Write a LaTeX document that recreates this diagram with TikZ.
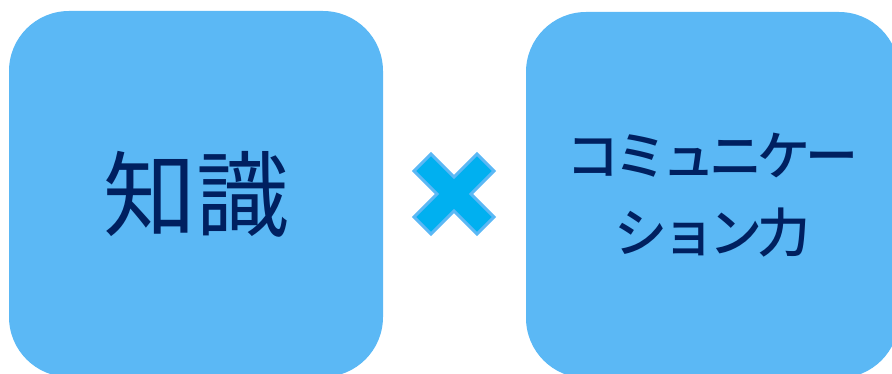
\documentclass[tikz,border=0pt]{standalone}
\usepackage{fontspec}
\newfontfamily\cjk{Noto Sans CJK JP}
\newfontfamily\cjkm[LetterSpace=-10]{Noto Sans CJK JP Medium}
\definecolor{boxblue}{HTML}{5BB8F5}
\definecolor{crossblue}{HTML}{00B0F0}
\definecolor{navy}{HTML}{002060}
\begin{document}
\begin{tikzpicture}[x=1pt,y=-1pt,
  card/.style={fill=boxblue, draw=none, rounded corners=60pt, inner sep=0pt, align=center, text=navy},
  crossmark/.style={fill=crossblue, draw=boxblue, line width=3pt, line join=miter}]
\useasboundingbox (0,0) rectangle (892,374);
\clip (0,0) rectangle (892,374);
\node[card, minimum width=374pt, minimum height=366pt, font=\cjk\fontsize{93pt}{100pt}\selectfont] (know) at (196,194) {知識};
\node[card, minimum width=373pt, minimum height=366pt, font=\cjkm\fontsize{53pt}{77pt}\selectfont] (comm) at (712.5,195) {コミュニケー\\ション力};
\coordinate (times) at (454,194);
\draw[crossmark, shift={(times)}, rotate=45]
  (12,12) -- (44.6,12) -- (44.6,-12) -- (12,-12) -- (12,-44.6) -- (-12,-44.6) -- (-12,-12)
  -- (-44.6,-12) -- (-44.6,12) -- (-12,12) -- (-12,44.6) -- (12,44.6) -- cycle;
\end{tikzpicture}
\end{document}
